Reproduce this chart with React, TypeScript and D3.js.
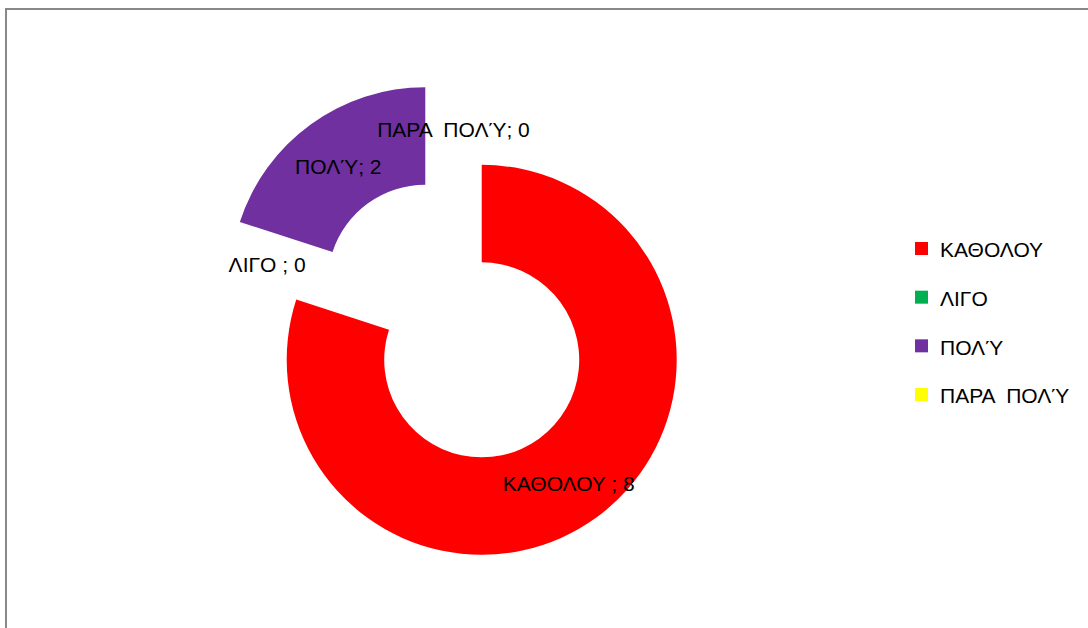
import React from "react";
import * as d3 from "d3";

const categories = ["ΚΑΘΟΛΟΥ", "ΛΙΓΟ", "ΠΟΛΎ", "ΠΑΡΑ ΠΟΛΎ"];
const values = [8, 0, 2, 0];
const labelNames = ["ΚΑΘΟΛΟΥ ", "ΛΙΓΟ ", "ΠΟΛΎ", "ΠΑΡΑ  ΠΟΛΎ"];
const colors = ["#FF0000", "#00B050", "#7030A0", "#FFFF00"];

const W = 1088;
const H = 628;
const CX = 453.5;
const CY = 321;
const R_OUT = 195;
const R_IN = 97.5;
const EXPLODE = 48;
const LABEL_R = 148;
const FONT = "'Liberation Sans', Arial, sans-serif";

export default function App() {
  const pie = d3
    .pie<number>()
    .sort(null)
    .value((d) => d)(values);
  const arc = d3.arc<d3.PieArcDatum<number>>().innerRadius(R_IN).outerRadius(R_OUT);

  const legendY = d3.scaleLinear().domain([0, 3]).range([249, 395]);

  return (
    <svg
      width={W}
      height={H}
      style={{ position: "absolute", left: 0, top: 0, fontFamily: FONT }}
    >
      <rect x={0} y={0} width={W} height={H} fill="#fff" />
      <path d={`M6,${H + 5} L6,9 L${W + 5},9`} fill="none" stroke="#888" strokeWidth={2} />
      {pie.map((p, i) => {
        const mid = (p.startAngle + p.endAngle) / 2;
        const dx = Math.sin(mid) * EXPLODE;
        const dy = -Math.cos(mid) * EXPLODE;
        return (
          <g key={i} transform={`translate(${CX + dx},${CY + dy})`}>
            {p.value > 0 && <path d={arc(p) || ""} fill={colors[i]} />}
          </g>
        );
      })}
      {pie.map((p, i) => {
        const mid = (p.startAngle + p.endAngle) / 2;
        const r = LABEL_R + EXPLODE;
        const x = CX + Math.sin(mid) * r;
        const y = CY - Math.cos(mid) * r;
        return (
          <text
            key={"l" + i}
            x={x}
            y={y}
            dy="0.55em"
            textAnchor="middle"
            fontSize={21}
            fill="#000"
            style={{ whiteSpace: "pre" }}
          >
            {`${labelNames[i]}; ${values[i]}`}
          </text>
        );
      })}
      {categories.map((c, i) => (
        <g key={"lg" + i}>
          <rect x={915} y={legendY(i) - 7} width={13} height={13} fill={colors[i]} />
          <text x={940} y={legendY(i)} dy="0.4em" fontSize={21} fill="#000" style={{ whiteSpace: "pre" }}>
            {c === "ΠΑΡΑ ΠΟΛΎ" ? "ΠΑΡΑ  ΠΟΛΎ" : c}
          </text>
        </g>
      ))}
    </svg>
  );
}
